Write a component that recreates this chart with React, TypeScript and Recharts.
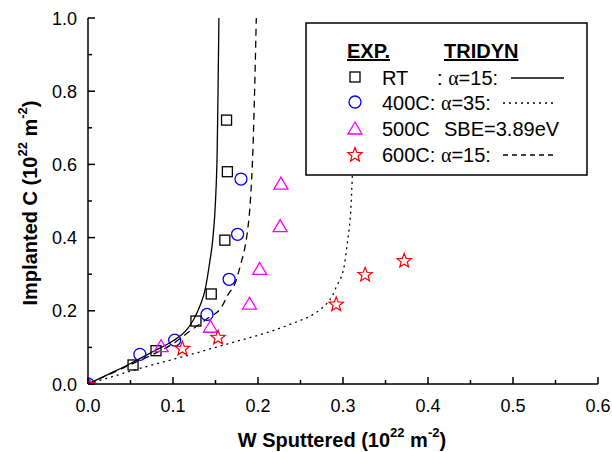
import React from 'react';
import { ComposedChart, Line, Scatter, XAxis, YAxis } from 'recharts';

// experimental points (W sputtered, implanted C), units 1e22 m^-2
const rtW = [0.053, 0.080, 0.127, 0.145, 0.161, 0.164, 0.163];
const rtC = [0.052, 0.091, 0.172, 0.246, 0.393, 0.580, 0.721];
const c400W = [0, 0.061, 0.102, 0.140, 0.166, 0.176, 0.180];
const c400C = [0, 0.081, 0.120, 0.190, 0.286, 0.409, 0.560];
const c500W = [0, 0.086, 0.144, 0.190, 0.202, 0.226, 0.227];
const c500C = [0, 0.102, 0.155, 0.218, 0.313, 0.430, 0.546];
const c600W = [0, 0.111, 0.153, 0.292, 0.326, 0.372];
const c600C = [0, 0.099, 0.129, 0.220, 0.301, 0.339];

// TRIDYN curves
const solidW = [0, 0.03, 0.05, 0.076, 0.1, 0.115, 0.124, 0.132, 0.138, 0.143, 0.147, 0.150, 0.152, 0.153, 0.154];
const solidC = [0, 0.033, 0.056, 0.088, 0.118, 0.145, 0.175, 0.215, 0.26, 0.33, 0.4, 0.5, 0.64, 0.8, 1.0];
const dashW = [0, 0.05, 0.08, 0.1, 0.12, 0.14, 0.157, 0.165, 0.173, 0.18, 0.184, 0.187, 0.191, 0.194, 0.196, 0.198];
const dashC = [0, 0.053, 0.085, 0.11, 0.145, 0.178, 0.21, 0.245, 0.275, 0.33, 0.366, 0.407, 0.5, 0.639, 0.8, 1.0];
const dotW = [0, 0.03, 0.06, 0.09, 0.12, 0.15, 0.18, 0.21, 0.24, 0.26, 0.275, 0.287, 0.293, 0.298, 0.302, 0.304, 0.307, 0.309, 0.311, 0.313];
const dotC = [0, 0.021, 0.042, 0.061, 0.08, 0.1, 0.12, 0.14, 0.165, 0.184, 0.207, 0.239, 0.27, 0.293, 0.33, 0.366, 0.42, 0.47, 0.571, 0.7];

const xTicks = [0, 0.05, 0.1, 0.15, 0.2, 0.25, 0.3, 0.35, 0.4, 0.45, 0.5, 0.55, 0.6];
const yTicks = [0, 0.1, 0.2, 0.3, 0.4, 0.5, 0.6, 0.7, 0.8, 0.9, 1.0];

const pts = (xs: number[], ys: number[]) => xs.map((x, i) => ({ x, y: ys[i] }));

const isMajor = (v: number, step: number) => Math.abs(v / step - Math.round(v / step)) < 1e-6;

const FONT = '"Liberation Sans", Arial, sans-serif';

const BottomTick = (props: any) => {
  const { x, y, payload } = props;
  const major = isMajor(payload.value, 0.1);
  return (
    <g>
      <line x1={x} x2={x} y1={y} y2={y - (major ? 7 : 4)} stroke="#000" strokeWidth={1.5} />
      {major && (
        <text x={x} y={y + 28} textAnchor="middle" fontSize={18} fontFamily={FONT} fill="#000">
          {payload.value.toFixed(1)}
        </text>
      )}
    </g>
  );
};

const TopTick = (props: any) => {
  const { x, y, payload } = props;
  const major = isMajor(payload.value, 0.1);
  return <line x1={x} x2={x} y1={y} y2={y + (major ? 7 : 4)} stroke="#000" strokeWidth={1.5} />;
};

const LeftTick = (props: any) => {
  const { x, y, payload } = props;
  const major = isMajor(payload.value, 0.2);
  return (
    <g>
      <line x1={x} x2={x + (major ? 7 : 4)} y1={y} y2={y} stroke="#000" strokeWidth={1.5} />
      {major && (
        <text x={x - 11} y={y + 6.5} textAnchor="end" fontSize={18} fontFamily={FONT} fill="#000">
          {payload.value.toFixed(1)}
        </text>
      )}
    </g>
  );
};

const RightTick = (props: any) => {
  const { x, y, payload } = props;
  const major = isMajor(payload.value, 0.2);
  return <line x1={x} x2={x - (major ? 7 : 4)} y1={y} y2={y} stroke="#000" strokeWidth={1.5} />;
};

const Square = ({ cx, cy }: any) => (
  <rect x={cx - 5} y={cy - 5} width={10} height={10} fill="none" stroke="#000" strokeWidth={1.3} />
);
const Circle = ({ cx, cy }: any) => <circle cx={cx} cy={cy} r={6} fill="none" stroke="#0000FF" strokeWidth={1.3} />;
const Triangle = ({ cx, cy }: any) => (
  <polygon
    points={`${cx},${cy - 7} ${cx - 7},${cy + 5} ${cx + 7},${cy + 5}`}
    fill="none"
    stroke="#FF00FF"
    strokeWidth={1.3}
  />
);
const starPoints = (cx: number, cy: number, ro: number, ri: number) => {
  const p: string[] = [];
  for (let i = 0; i < 10; i++) {
    const r = i % 2 === 0 ? ro : ri;
    const a = -Math.PI / 2 + (i * Math.PI) / 5;
    p.push(`${cx + r * Math.cos(a)},${cy + r * Math.sin(a)}`);
  }
  return p.join(' ');
};
const Star = ({ cx, cy }: any) => (
  <polygon points={starPoints(cx, cy + 1, 7.5, 3.2)} fill="none" stroke="#FF0000" strokeWidth={1.2} />
);

const axisLine = { stroke: '#000', strokeWidth: 1.5 };

const UnitTitle = ({ label }: { label: string }) => (
  <>
    {label} (10<tspan dy={-10} fontSize={13}>22</tspan>
    <tspan dy={10}> m</tspan>
    <tspan dy={-10} fontSize={13}>-2</tspan>
    <tspan dy={10}>)</tspan>
  </>
);

export default function App() {
  return (
    <div style={{ position: 'absolute', left: 0, top: 0, width: 612, height: 452, background: '#fff' }}>
      <ComposedChart width={612} height={452} margin={{ top: 18, right: 14, bottom: 0, left: 0 }}>
        <XAxis
          type="number"
          dataKey="x"
          domain={[0, 0.6]}
          ticks={xTicks}
          interval={0}
          allowDataOverflow
          height={68}
          tickSize={0}
          tickMargin={0}
          tickLine={false}
          axisLine={axisLine}
          tick={<BottomTick />}
        />
        <XAxis
          xAxisId="top"
          orientation="top"
          type="number"
          domain={[0, 0.6]}
          ticks={xTicks}
          interval={0}
          height={0}
          tickSize={0}
          tickMargin={0}
          tickLine={false}
          axisLine={axisLine}
          tick={<TopTick />}
        />
        <YAxis
          type="number"
          dataKey="y"
          domain={[0, 1]}
          ticks={yTicks}
          interval={0}
          allowDataOverflow
          width={88}
          tickSize={0}
          tickMargin={0}
          tickLine={false}
          axisLine={axisLine}
          tick={<LeftTick />}
        />
        <YAxis
          yAxisId="right"
          orientation="right"
          type="number"
          domain={[0, 1]}
          ticks={yTicks}
          interval={0}
          width={0}
          tickSize={0}
          tickMargin={0}
          tickLine={false}
          axisLine={axisLine}
          tick={<RightTick />}
        />
        <Line data={pts(dotW, dotC)} dataKey="y" type="monotone" stroke="#000" strokeWidth={1.3} strokeDasharray="2 4" dot={false} isAnimationActive={false} />
        <Line data={pts(dashW, dashC)} dataKey="y" type="monotone" stroke="#000" strokeWidth={1.3} strokeDasharray="7 5" dot={false} isAnimationActive={false} />
        <Line data={pts(solidW, solidC)} dataKey="y" type="monotone" stroke="#000" strokeWidth={1.3} dot={false} isAnimationActive={false} />
        <Scatter data={pts(rtW, rtC)} shape={<Square />} isAnimationActive={false} />
        <Scatter data={pts(c400W, c400C)} shape={<Circle />} isAnimationActive={false} />
        <Scatter data={pts(c500W, c500C)} shape={<Triangle />} isAnimationActive={false} />
        <Scatter data={pts(c600W, c600C)} shape={<Star />} isAnimationActive={false} />
      </ComposedChart>

      <svg
        width={612}
        height={452}
        style={{ position: 'absolute', left: 0, top: 0, pointerEvents: 'none' }}
        fontFamily={FONT}
      >
        {/* axis titles */}
        <text x={342} y={447} textAnchor="middle" fontSize={20} fontWeight="bold" fill="#000">
          <UnitTitle label="W Sputtered" />
        </text>
        <text transform="translate(37,203) rotate(-90)" textAnchor="middle" fontSize={20} fontWeight="bold" fill="#000">
          <UnitTitle label="Implanted C" />
        </text>

        {/* legend */}
        <rect x={306} y={23} width={281} height={152} fill="#fff" stroke="#000" strokeWidth={1.5} />
        <text x={347} y={58} fontSize={20} fontWeight="bold" textDecoration="underline" fill="#000">EXP.</text>
        <text x={444} y={58} fontSize={20} fontWeight="bold" textDecoration="underline" fill="#000">TRIDYN</text>

        <Square cx={355} cy={77} />
        <text x={382} y={85} fontSize={20} fill="#000">RT</text>
        <text x={437} y={85} fontSize={20} fill="#000">
          : <tspan fontFamily='"Liberation Serif", serif'>α</tspan>=15:
        </text>
        <line x1={511} x2={564} y1={78} y2={78} stroke="#000" strokeWidth={1.3} />

        <Circle cx={355} cy={102} />
        <text x={382} y={110} fontSize={20} fill="#000">
          400C: <tspan fontFamily='"Liberation Serif", serif'>α</tspan>=35:
        </text>
        <line x1={503} x2={557} y1={103} y2={103} stroke="#000" strokeWidth={1.3} strokeDasharray="2 4" />

        <Triangle cx={355} cy={129} />
        <text x={382} y={136} fontSize={20} fill="#000">500C</text>
        <text x={444} y={136} fontSize={20} fill="#000">SBE=3.89eV</text>

        <Star cx={355} cy={154} />
        <text x={382} y={162} fontSize={20} fill="#000">
          600C: <tspan fontFamily='"Liberation Serif", serif'>α</tspan>=15:
        </text>
        <line x1={503} x2={557} y1={155} y2={155} stroke="#000" strokeWidth={1.3} strokeDasharray="5 4" />
      </svg>
    </div>
  );
}
